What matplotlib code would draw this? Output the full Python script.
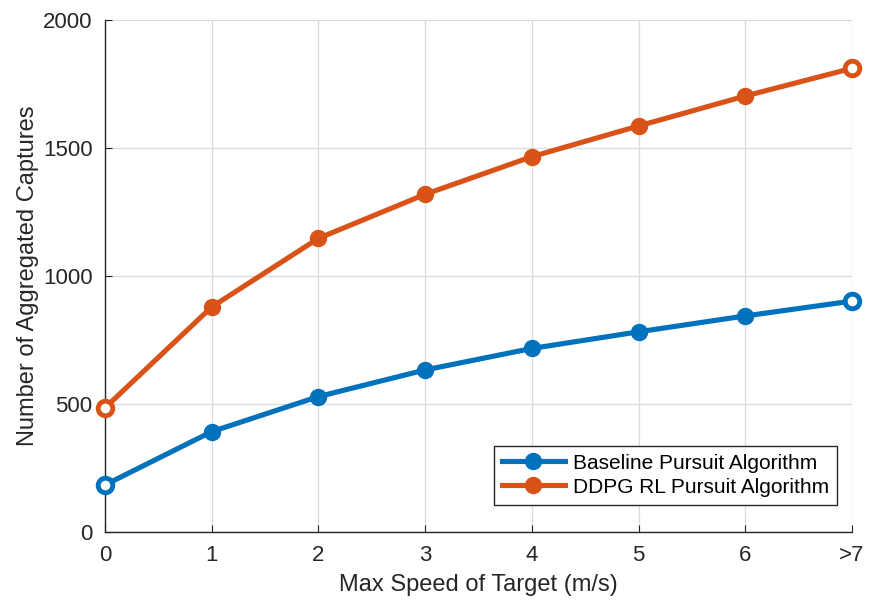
import matplotlib.pyplot as plt

# capture counts vs. target max speed
speeds = [0, 1, 2, 3, 4, 5, 6, 7]
speed_labels = ['0', '1', '2', '3', '4', '5', '6', '>7']
baseline = [184, 392, 529, 633, 717, 782, 844, 902]
ddpg = [485, 879, 1147, 1319, 1466, 1586, 1703, 1811]

blue = '#0072BD'
orange = '#D95319'

plt.rcParams['font.family'] = ['Liberation Sans', 'DejaVu Sans']

fig = plt.figure(figsize=(8.69, 6.09), dpi=100, facecolor='white')
ax = fig.add_axes([0.1208, 0.1264, 0.8596, 0.8408])

for ys, c, lab in [(baseline, blue, 'Baseline Pursuit Algorithm'),
                   (ddpg, orange, 'DDPG RL Pursuit Algorithm')]:
    ax.plot(speeds, ys, color=c, lw=3.7, marker='o', ms=11.5, mfc=c, mec=c,
            markevery=list(range(1, len(speeds) - 1)), label=lab, clip_on=False, zorder=3)
    # end points are drawn as rings
    ax.plot([speeds[0], speeds[-1]], [ys[0], ys[-1]], ls='none', marker='o', ms=10.5,
            mfc='white', mec=c, mew=3.5, clip_on=False, zorder=4)

ax.set_xlim(0, 7)
ax.set_ylim(0, 2000)
ax.set_xticks(speeds)
ax.set_xticklabels(speed_labels)
ax.set_yticks([0, 500, 1000, 1500, 2000])
ax.grid(True, color='#dcdcdc', lw=0.9)
ax.set_axisbelow(True)
for s in ['top', 'right']:
    ax.spines[s].set_visible(False)
for s in ['left', 'bottom']:
    ax.spines[s].set_color('#262626')
    ax.spines[s].set_linewidth(1.0)
ax.tick_params(direction='in', length=5, colors='#262626', labelsize=16, pad=9)

ax.set_xlabel('Max Speed of Target (m/s)', fontsize=17, color='#262626', labelpad=6)
ax.set_ylabel('Number of Aggregated Captures', fontsize=17, color='#262626', labelpad=3)

leg = ax.legend(loc='lower right', bbox_to_anchor=(0.994, 0.033), fontsize=15,
                fancybox=False, framealpha=1, edgecolor='#262626', handlelength=3.0,
                borderpad=0.38, labelspacing=0.25, handletextpad=0.4)
leg.get_frame().set_linewidth(1.0)

fig.savefig('out.png', dpi=100)
